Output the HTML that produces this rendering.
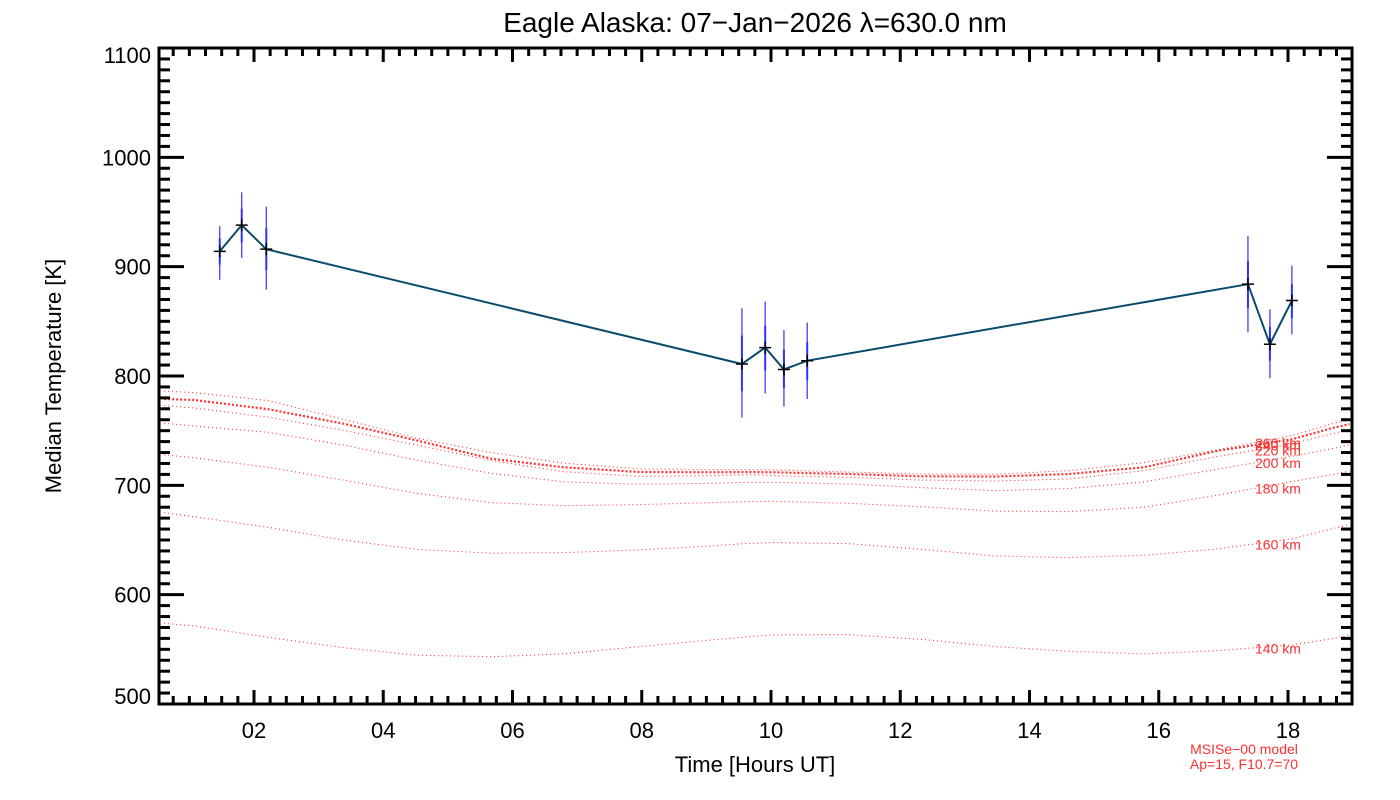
<!DOCTYPE html>
<html><head><meta charset="utf-8"><style>
html,body{margin:0;padding:0;background:#fff;}
svg{display:block;font-family:"Liberation Sans",sans-serif;}
</style></head><body>
<svg id="chart" width="1400" height="800" viewBox="0 0 1400 800" xmlns="http://www.w3.org/2000/svg">
<rect width="1400" height="800" fill="#fff"/>
<text x="755" y="32" font-size="28" text-anchor="middle" fill="#000">Eagle Alaska: 07−Jan−2026 λ=630.0 nm</text>
<text transform="translate(61,376) rotate(-90)" font-size="22" text-anchor="middle" fill="#000">Median Temperature [K]</text>
<text x="755" y="772" font-size="22" text-anchor="middle" fill="#000">Time [Hours UT]</text>
<text x="1244" y="754" font-size="14" text-anchor="middle" fill="#ff3030">MSISe−00 model</text>
<text x="1244" y="769" font-size="14" text-anchor="middle" fill="#ff3030">Ap=15, F10.7=70</text>
<g id="model"></g>
<g id="data"></g>
<g id="axes"></g>
</svg>
<script>
const obsHours=[1.47,1.81,2.19,9.55,9.91,10.2,10.56,17.38,17.72,18.06];
const obsTemp=[914,938,916,811,826,806,814,884,829,869];
const obsOuterLo=[888,908,879,762,784,772,779,840,798,838];
const obsOuterHi=[937,968,955,862,868,842,849,928,861,901];
const obsInnerLo=[902,922,897,786,805,789,796,862,814,853];
const obsInnerHi=[926,953,935,837,846,824,831,905,845,884];
const modelHours=[0.61,1.06,2.22,3.38,4.51,5.67,6.80,7.96,9.09,9.66,10.03,11.19,12.32,13.48,14.61,15.77,16.90,18.06,18.71,18.95];
const modelAlt=[140,160,180,200,220,240,260];
const m140=[573.8,571.4,561.0,551.6,544.6,543.3,545.8,552.5,558.6,561.6,563.2,563.5,559.2,552.5,548.2,545.8,548.8,554.0,560.1,563];
const m160=[675.0,671.4,661.6,650.0,641.5,637.9,638.5,640.9,644.6,647.0,647.6,646.7,641.5,635.4,633.9,636.0,641.8,651.0,660.7,664];
const m180=[727.8,725.4,716.5,704.9,692.7,684.2,681.4,682.4,684.2,685.1,685.4,683.6,680.5,676.3,676.0,679.9,690.9,703.4,710.1,713];
const m200=[756.8,754.3,748.5,736.9,723.2,711.0,703.1,701.0,701.9,702.8,702.8,701.3,697.9,695.2,697.0,703.1,714.7,726.6,733.9,737];
const m220=[772.9,770.8,762.3,750.4,736.9,722.6,712.5,708.3,708.9,709.8,708.9,707.4,704.9,704.0,705.8,713.5,726.3,737.9,747.6,751];
const m240=[779.0,778.1,769.6,756.5,741.2,724.4,716.5,712.2,711.9,712.2,711.9,710.4,708.3,708.0,710.4,716.5,731.5,742.1,752.8,756];
const m260=[786.3,784.8,777.5,760.4,743.3,729.9,720.2,715.0,714.4,714.4,714.1,712.2,710.4,710.1,713.5,720.8,732.4,745.5,756.8,760];
const xTickLabels=["02","04","06","08","10","12","14","16","18"];
const yTickLabels=["500","600","700","800","900","1000","1100"];

const NS="http://www.w3.org/2000/svg";
const X0=159,X1=1352,Y0=704,Y1=48,HMIN=0.53,HMAX=18.99,TMIN=500,TMAX=1100;
function xs(h){return X0+(h-HMIN)/(HMAX-HMIN)*(X1-X0);}
function ys(t){return Y0-(t-TMIN)/(TMAX-TMIN)*(Y0-Y1);}
function mk(tag,attrs,parent){const e=document.createElementNS(NS,tag);for(const k in attrs)e.setAttribute(k,attrs[k]);parent.appendChild(e);return e;}

const model=document.getElementById('model');
const series=[m140,m160,m180,m200,m220,m240,m260];
series.forEach((s,i)=>{
  const d=s.map((v,j)=>(j?'L':'M')+xs(modelHours[j]).toFixed(1)+','+ys(v).toFixed(1)).join(' ');
  const p=mk('path',{d:d,fill:'none',stroke:'#ff3030','stroke-width':modelAlt[i]===240?2.2:1.1,'stroke-dasharray':modelAlt[i]===240?'2 2':'1 3'},model);
  
  
  const h=17.55;let k=0;while(modelHours[k+1]<h)k++;
  const f=(h-modelHours[k])/(modelHours[k+1]-modelHours[k]);
  const v=s[k]+f*(s[k+1]-s[k]);
  const t=mk('text',{x:1255,y:(ys(v)+6).toFixed(1),'font-size':14,fill:'#ff3030'},model);
  t.textContent=modelAlt[i]+' km';
  
  
});

const data=document.getElementById('data');
obsHours.forEach((h,i)=>{
  const x=xs(h);
  const o=mk('line',{x1:x,x2:x,y1:ys(obsOuterLo[i]),y2:ys(obsOuterHi[i]),stroke:'#3030ff','stroke-width':1.2},data);
  
  
  const n=mk('line',{x1:x,x2:x,y1:ys(obsInnerLo[i]),y2:ys(obsInnerHi[i]),stroke:'#3030ff','stroke-width':2},data);
  
  
});
const ld=obsHours.map((h,i)=>(i?'L':'M')+xs(h).toFixed(1)+','+ys(obsTemp[i]).toFixed(1)).join(' ');
const line=mk('path',{d:ld,fill:'none',stroke:'#0a4a6a','stroke-width':2},data);


obsHours.forEach((h,i)=>{
  const x=xs(h),y=ys(obsTemp[i]);
  const m=mk('path',{d:`M${x-6},${y}H${x+6}M${x},${y-6}V${y+6}`,stroke:'#000','stroke-width':1.5},data);
  
  
});

const ax=document.getElementById('axes');
const fr=mk('rect',{x:X0,y:Y1,width:X1-X0,height:Y0-Y1,fill:'none',stroke:'#000','stroke-width':3},ax);


for(let q=Math.ceil(HMIN*4);q<=Math.floor(HMAX*4);q++){
  const h=q/4,x=xs(h),major=(q%8===0),L=major?14:8;
  mk('line',{x1:x,x2:x,y1:Y0,y2:Y0-L,stroke:'#000','stroke-width':3},ax);
  mk('line',{x1:x,x2:x,y1:Y1,y2:Y1+L,stroke:'#000','stroke-width':3},ax);
}
xTickLabels.forEach((lab,i)=>{
  const t=mk('text',{x:xs(2+2*i),y:738,'font-size':22,'text-anchor':'middle',fill:'#000'},ax);
  t.textContent=lab;
  
  
});
for(let v=TMIN;v<=TMAX;v+=10){
  const y=ys(v),major=(v%100===0),L=major?25:11;
  mk('line',{x1:X0,x2:X0+L,y1:y,y2:y,stroke:'#000','stroke-width':3},ax);
  mk('line',{x1:X1,x2:X1-L,y1:y,y2:y,stroke:'#000','stroke-width':3},ax);
}
yTickLabels.forEach((lab,i)=>{
  const last=(i===yTickLabels.length-1);
  const t=mk('text',{x:151,y:ys(500+100*i)+(i===0?0:(last?15:8)),'font-size':22,'text-anchor':'end',fill:'#000'},ax);
  t.textContent=lab;
  
  
});
</script>
</body></html>
